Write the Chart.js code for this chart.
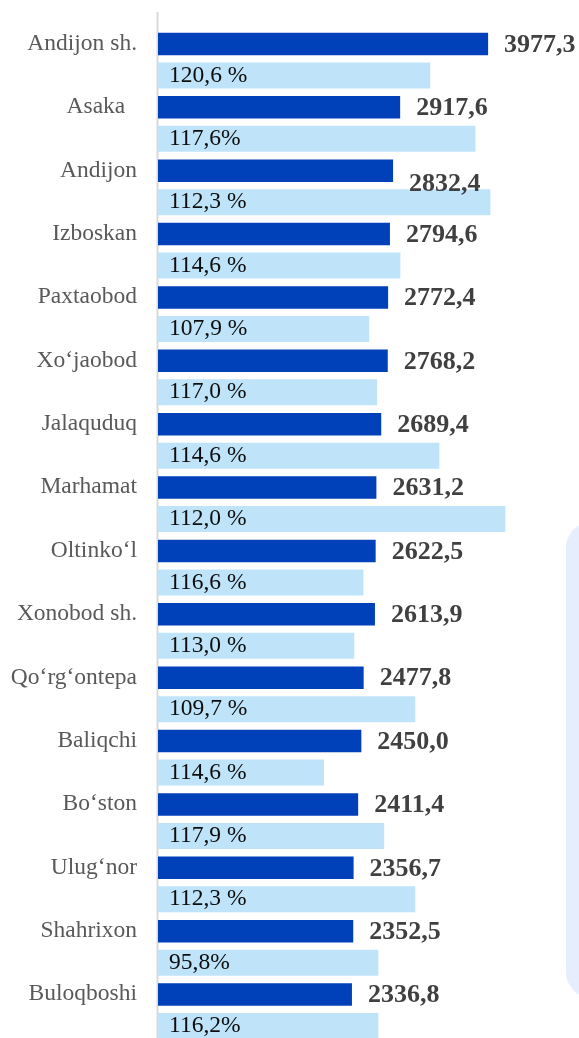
<!DOCTYPE html>
<html>
<head>
<meta charset="utf-8">
<script src="https://cdn.jsdelivr.net/npm/chart.js@4.4.1/dist/chart.umd.min.js"></script>
<style>
  html, body { margin: 0; padding: 0; background: #fff; overflow: hidden; }
  #panel { position: absolute; left: 566px; top: 522px; width: 60px; height: 476px; background: #E6EDFC; border-radius: 26px; }
  #box { position: absolute; left: 0; top: 0; width: 579px; height: 1046px; }
</style>
</head>
<body>
<div id="panel"></div>
<div id="box"><canvas id="districtChart"></canvas></div>
<script>
const districts = [
  "Andijon sh.", "Asaka  ", "Andijon", "Izboskan", "Paxtaobod", "Xo‘jaobod", "Jalaquduq", "Marhamat",
  "Oltinko‘l", "Xonobod sh.", "Qo‘rg‘ontepa", "Baliqchi", "Bo‘ston", "Ulug‘nor", "Shahrixon", "Buloqboshi"
];
const volumes = [
  3977.3, 2917.6, 2832.4, 2794.6, 2772.4, 2768.2, 2689.4, 2631.2,
  2622.5, 2613.9, 2477.8, 2450.0, 2411.4, 2356.7, 2352.5, 2336.8
];
// light bar lengths as drawn in the picture (same scale as the dark bars)
const growthBars = [
  3280, 3825, 4005, 2920, 2545, 2640, 3390, 4185,
  2475, 2365, 3100, 2000, 2725, 3100, 2655, 2655
];
const growthLabels = [
  "120,6 %", "117,6%", "112,3 %", "114,6 %", "107,9 %", "117,0 %", "114,6 %", "112,0 %",
  "116,6 %", "113,0 %", "109,7 %", "114,6 %", "117,9 %", "112,3 %", "95,8%", "116,2%"
];

const serif = "'Liberation Serif', 'Times New Roman', serif";

// vertical axis line runs a bit above the first row
const axisLine = {
  id: "axisLine",
  beforeDatasetsDraw(chart) {
    const c = chart.ctx;
    const x = chart.chartArea.left - 0.5;
    c.save();
    c.strokeStyle = "#D9D9D9";
    c.lineWidth = 2;
    c.beginPath();
    c.moveTo(x, 12);
    c.lineTo(x, chart.height);
    c.stroke();
    c.restore();
  }
};

const barLabels = {
  id: "barLabels",
  afterDatasetsDraw(chart) {
    const c = chart.ctx;
    const dark = chart.getDatasetMeta(0).data;
    const light = chart.getDatasetMeta(1).data;
    c.save();
    c.textBaseline = "middle";
    c.textAlign = "left";
    c.font = "bold 26px " + serif;
    c.fillStyle = "#404040";
    dark.forEach((bar, i) => {
      const shift = i === 2 ? 14 : 1; // Andijon value sits lower in the original
      c.fillText(volumes[i].toFixed(1).replace(".", ","), bar.x + 16, bar.y + shift);
    });
    c.font = "23.5px " + serif;
    c.fillStyle = "#0D0D0D";
    light.forEach((bar, i) => {
      c.fillText(growthLabels[i], chart.chartArea.left + 11, bar.y);
    });
    c.restore();
  }
};

const ctx = document.getElementById("districtChart").getContext("2d");
new Chart(ctx, {
  type: "bar",
  data: {
    labels: districts,
    datasets: [
      {
        label: "Hajm",
        data: volumes,
        backgroundColor: "#0040B9",
        barPercentage: 0.714,
        categoryPercentage: 0.995
      },
      {
        label: "O‘sish",
        data: growthBars,
        backgroundColor: "#BFE4FA",
        barPercentage: 0.825,
        categoryPercentage: 0.995
      }
    ]
  },
  options: {
    indexAxis: "y",
    responsive: true,
    maintainAspectRatio: false,
    animation: false,
    layout: { padding: { top: 28, bottom: 4, right: 6 } },
    plugins: {
      legend: { display: false },
      tooltip: { enabled: false }
    },
    scales: {
      x: { display: false, min: 0, max: 5000 },
      y: {
        afterFit: scale => {
          scale.width = 158;
          scale.paddingTop = 0;   // labels may sit at the very edges
          scale.paddingBottom = 0;
        },
        grid: { display: false, drawTicks: false },
        border: { display: false },
        ticks: {
          color: "#595959",
          font: { family: serif, size: 23.5 },
          padding: 21,
          labelOffset: -16,
          autoSkip: false
        }
      }
    }
  },
  plugins: [axisLine, barLabels]
});
</script>
</body>
</html>
